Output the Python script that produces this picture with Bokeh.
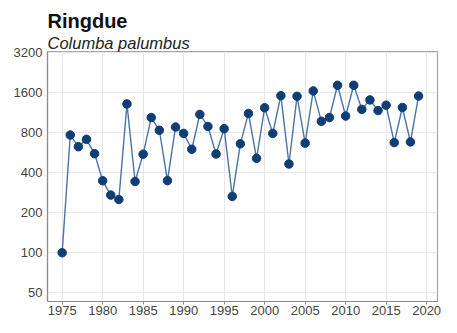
from bokeh.plotting import figure
from bokeh.models import Range1d, FixedTicker, CustomJSTickFormatter, Title
from bokeh.embed import file_html
from bokeh.resources import INLINE

years = list(range(1975, 2020))
counts = [100, 766, 626, 711, 555, 347, 271, 251, 1312, 343,
          550, 1037, 832, 348, 880, 788, 599, 1095, 889, 552,
          855, 265, 658, 1113, 512, 1228, 788, 1513, 464, 1496,
          666, 1643, 971, 1037, 1812, 1064, 1812, 1194, 1407, 1169,
          1283, 672, 1234, 680, 1503]
y_ticks = [50, 100, 200, 400, 800, 1600, 3200]
x_ticks = [1975, 1980, 1985, 1990, 1995, 2000, 2005, 2010, 2015, 2020]
title_text = "Ringdue"
subtitle_text = "Columba palumbus"

FONT = "Liberation Sans"

p = figure(width=441, height=317, output_backend="svg", toolbar_location=None,
           y_axis_type="log",
           x_range=Range1d(1973.19, 2021.34), y_range=Range1d(43, 3250),
           min_border_left=47, min_border_right=4, min_border_bottom=0, min_border_top=51)

p.add_layout(Title(text=subtitle_text, text_font=FONT, text_font_style="italic",
                   text_font_size="16.5px", text_color="#222222", align="left",
                   standoff=0), "above")
p.add_layout(Title(text=title_text, text_font=FONT, text_font_style="bold",
                   text_font_size="20px", text_color="#111111", align="left",
                   standoff=0), "above")

p.line(years, counts, line_color="#4a74a3", line_width=1.4)
p.scatter(years, counts, size=8.5, fill_color="#0e3e75", line_color="#0e3e75")

p.xaxis.ticker = FixedTicker(ticks=x_ticks)
p.yaxis.ticker = FixedTicker(ticks=y_ticks, minor_ticks=[])
p.yaxis.formatter = CustomJSTickFormatter(code="return tick.toFixed(0);")

for ax in (p.xaxis, p.yaxis):
    ax.axis_line_color = "#8c8c8c"
    ax.axis_line_width = 1.2
    ax.major_tick_line_color = "#8c8c8c"
    ax.minor_tick_line_color = None
    ax.major_label_text_font = FONT
    ax.major_label_text_font_size = "13px"
    ax.major_label_text_color = "#444444"

p.xaxis.major_tick_out = 3
p.xaxis.major_tick_in = 0
p.xaxis.major_label_standoff = 1
p.yaxis.major_tick_out = 0
p.yaxis.major_tick_in = 0
p.yaxis.major_label_standoff = 5

p.xgrid.ticker = FixedTicker(ticks=x_ticks)
p.xgrid.grid_line_color = "#e6e6e6"
p.ygrid.grid_line_color = "#e6e6e6"
p.outline_line_color = "#a6a6a6"
p.outline_line_width = 1.2
p.background_fill_color = "white"
p.border_fill_color = "white"

open("out.html", "w").write(file_html(p, INLINE))
